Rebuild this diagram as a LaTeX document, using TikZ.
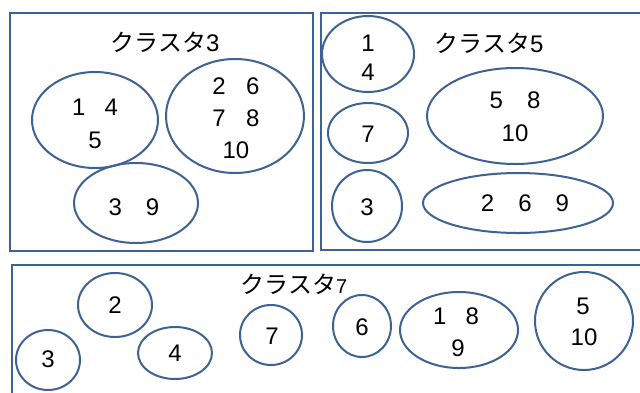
\documentclass[tikz,border=0pt]{standalone}
\usepackage{fontspec}
\setmainfont{Liberation Sans}
\newfontfamily\cjk{Noto Sans CJK JP}
\definecolor{ol}{RGB}{62,98,145}
\begin{document}
\begin{tikzpicture}[x=1pt,y=-1pt,
  ell/.style={draw=ol,line width=2pt},
  frame/.style={draw=ol,line width=1.5pt},
  lbl/.style={font=\fontsize{24}{26}\selectfont,inner sep=0pt,text=black},
  ttl/.style={font=\fontsize{24}{26}\selectfont,inner sep=0pt,text=black}]
\useasboundingbox (0,0) rectangle (640,392);
\fill[white] (0,0) rectangle (640,392);
\clip (0,0) rectangle (640,392);
% frames
\draw[frame] (10,13) rectangle (313,251);
\draw[frame] (321,13) rectangle (650,250);
\draw[frame] (12,265) rectangle (650,400);
% cluster 3
\node[ttl] (t3) at (165,42) {{\cjk クラスタ}3};
\draw[ell] (95,120) ellipse (63 and 48);
\node[lbl] (a1) at (95,107) {1\hspace{0.8em}4};
\node[lbl] (a2) at (95,140) {5};
\draw[ell] (235,116) ellipse (69 and 57);
\node[lbl] (b1) at (236,86) {2\hspace{0.85em}6};
\node[lbl] (b2) at (236,118) {7\hspace{0.85em}8};
\node[lbl] (b3) at (236,150) {10};
\draw[ell] (136,203) ellipse (62 and 40);
\node[lbl] (c1) at (134,207) {3\quad9};
% cluster 5
\node[ttl] (t5) at (489,43) {{\cjk クラスタ}5};
\draw[ell] (368,54) ellipse (46 and 38);
\node[lbl] (d1) at (368,43) {1};
\node[lbl] (d2) at (368,72) {4};
\draw[ell] (368,133) ellipse (40 and 30);
\node[lbl] (e1) at (368,134) {7};
\draw[ell] (367,206) ellipse (35 and 36);
\node[lbl] (f1) at (367,207) {3};
\draw[ell] (515,116) ellipse (88 and 48);
\node[lbl] (g1) at (515,100) {5\quad8};
\node[lbl] (g2) at (515,133) {10};
\draw[ell] (518,203) ellipse (95 and 30);
\node[lbl] (h1) at (525,203) {2\quad6\quad9};
% cluster 7
\node[ttl] (t7) at (294,284) {{\cjk クラスタ}{\fontsize{20}{22}\selectfont 7}};
\draw[ell] (115,305) ellipse (37 and 32);
\node[lbl] (i1) at (115,305) {2};
\draw[ell] (48,360) ellipse (32 and 30);
\node[lbl] (j1) at (48,359) {3};
\draw[ell] (175,353) ellipse (37 and 26);
\node[lbl] (k1) at (175,353) {4};
\draw[ell] (271,335) ellipse (31 and 30);
\node[lbl] (l1) at (272,336) {7};
\draw[ell] (362,326) ellipse (29 and 31);
\node[lbl] (m1) at (362,327) {6};
\draw[ell] (459,330) ellipse (59 and 38);
\node[lbl] (n1) at (456,316) {1\hspace{0.8em}8};
\node[lbl] (n2) at (458,348) {9};
\draw[ell] (584,321) ellipse (49 and 49);
\node[lbl] (o1) at (583,306) {5};
\node[lbl] (o2) at (584,337) {10};
\end{tikzpicture}
\end{document}
